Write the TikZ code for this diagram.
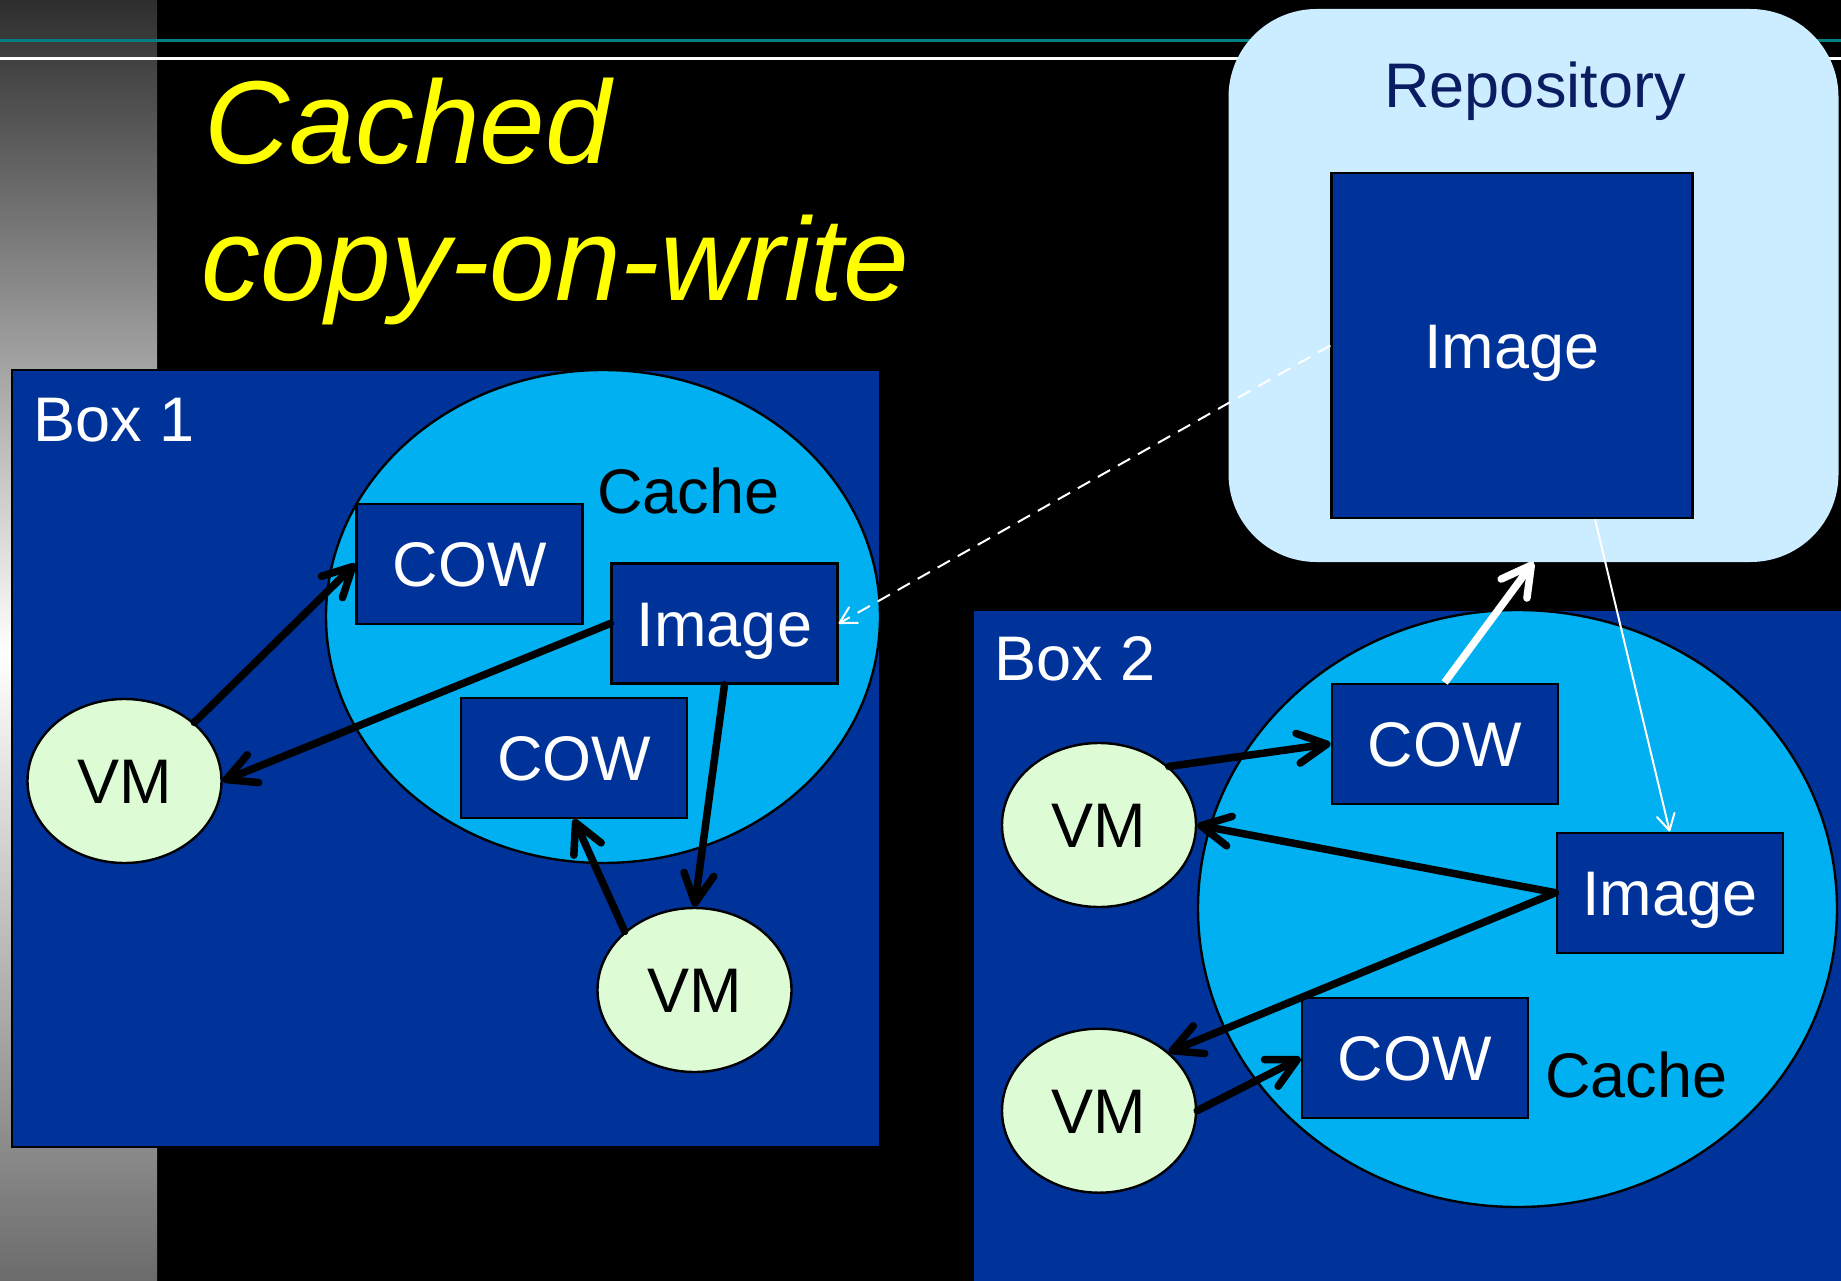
\documentclass[tikz,border=0pt]{standalone}
\usepackage{fontspec}
\setmainfont{Liberation Sans}
\usetikzlibrary{shapes.geometric,arrows.meta}
\definecolor{boxblue}{HTML}{003399}
\definecolor{cacheblue}{HTML}{00B0F0}
\definecolor{vmgreen}{HTML}{DDFCD6}
\definecolor{repolight}{HTML}{CCECFF}
\definecolor{reponavy}{HTML}{0B1D62}
\definecolor{tealline}{HTML}{008080}
\definecolor{titleyellow}{HTML}{FFFF00}
\begin{document}
\begin{tikzpicture}[x=1pt,y=-1pt,
  lblfont/.style={font=\fontsize{63}{75}\selectfont},
  tag/.style={lblfont, inner sep=0pt, anchor=base west},
  region/.style={rectangle, draw=black, line width=2pt, fill=boxblue, inner sep=0pt},
  cachezone/.style={ellipse, draw=black, line width=2.4pt, fill=cacheblue, inner sep=0pt},
  blk/.style={rectangle, draw=black, line width=2.4pt, fill=boxblue, minimum width=226pt, minimum height=120pt, inner sep=0pt, text=white, lblfont, text height=45pt, text depth=0pt},
  vm/.style={ellipse, draw=black, line width=2.4pt, fill=vmgreen, minimum width=194pt, minimum height=164pt, inner sep=0pt, text=black, lblfont, text height=45pt, text depth=0pt},
  link/.style={draw=black, line width=7.5pt, line cap=round, -{Straight Barb[length=29pt,width=30pt,round]}},
  push/.style={draw=white, line width=7.5pt, -{Straight Barb[length=29pt,width=32pt,round]}},
  fetch/.style={draw=white, line width=2pt, -{Straight Barb[length=16pt,width=18pt,round]}},
  fetchd/.style={fetch, dash pattern=on 14pt off 9pt}
]
\useasboundingbox (0,0) rectangle (1841,1281);
\clip (0,0) rectangle (1841,1281);
% background
\fill[black] (0,0) rectangle (1841,1281);
\shade[top color=black!82, bottom color=white] (0,0) rectangle (157,653);
\shade[top color=white, bottom color=black!58] (0,653) rectangle (157,1281);
\draw[tealline, line width=2.7pt] (0,40.5) -- (1841,40.5);
\draw[white, line width=2.7pt] (0,58.5) -- (1841,58.5);

% title
\node[anchor=base west, inner sep=0pt, text=titleyellow, font=\fontsize{118}{140}\selectfont\itshape] (title1) at (204,164) {Cached};
\node[anchor=base west, inner sep=0pt, text=titleyellow, font=\fontsize{118}{140}\selectfont\itshape] (title2) at (201,300) {copy-on-write};

% Box 1
\node[region, minimum width=868pt, minimum height=777pt] (box1) at (446,758.5) {};
\node[cachezone, minimum width=554pt, minimum height=493pt] (cache1) at (603,616.5) {};
\node[tag, text=white] (box1lbl) at (33,441) {Box 1};
\node[tag, text=black] (cache1lbl) at (597,513) {Cache};
\node[blk] (cow1) at (469.5,564) {COW};
\node[blk] (img1) at (724.5,623.5) {Image};
\node[blk] (cow2) at (574,758) {COW};
\node[vm] (vm1) at (124.5,781) {VM};
\node[vm] (vm2) at (694.5,990) {VM};

% Box 2
\node[region, minimum width=877pt, minimum height=681pt] (box2) at (1411.5,950) {};
\node[cachezone, minimum width=639pt, minimum height=597pt] (cache2) at (1517.5,908.5) {};
\node[tag, text=white] (box2lbl) at (994,680) {Box 2};
\node[tag, text=black] (cache2lbl) at (1545,1097) {Cache};
\node[blk] (cow3) at (1444.7,743.7) {COW};
\node[blk] (img2) at (1669.7,892.7) {Image};
\node[blk] (cow4) at (1414.7,1058) {COW};
\node[vm] (vm3) at (1099,825) {VM};
\node[vm] (vm4) at (1099,1110.7) {VM};

% Repository
\node[rectangle, rounded corners=88pt, fill=repolight, minimum width=610pt, minimum height=553pt, inner sep=0pt] (repo) at (1533.5,285.5) {};
\node[anchor=base, inner sep=0pt, text=reponavy, lblfont] (repolbl) at (1535,108) {Repository};
\node[blk, minimum width=361pt, minimum height=345pt] (rimg) at (1512,345.5) {Image};

% connectors, box 1
\draw[link] (vm1.40) -- (cow1.west);
\draw[link] (img1.west) -- (vm1.east);
\draw[link] (img1.south) -- (vm2.north);
\draw[link] (vm2.140) -- (cow2.south);
% connectors, box 2
\draw[link] (vm3.40) -- (cow3.west);
\draw[link] (img2.west) -- (vm3.east);
\draw[link] (img2.west) -- (vm4.40);
\draw[link] (vm4.east) -- (cow4.west);
% repository traffic
\draw[push] (cow3.north) -- (repo.south);
\draw[fetch] ([xshift=83pt]rimg.south) -- (img2.north);
\draw[fetchd] (rimg.west) -- (img1.east);
\end{tikzpicture}
\end{document}
